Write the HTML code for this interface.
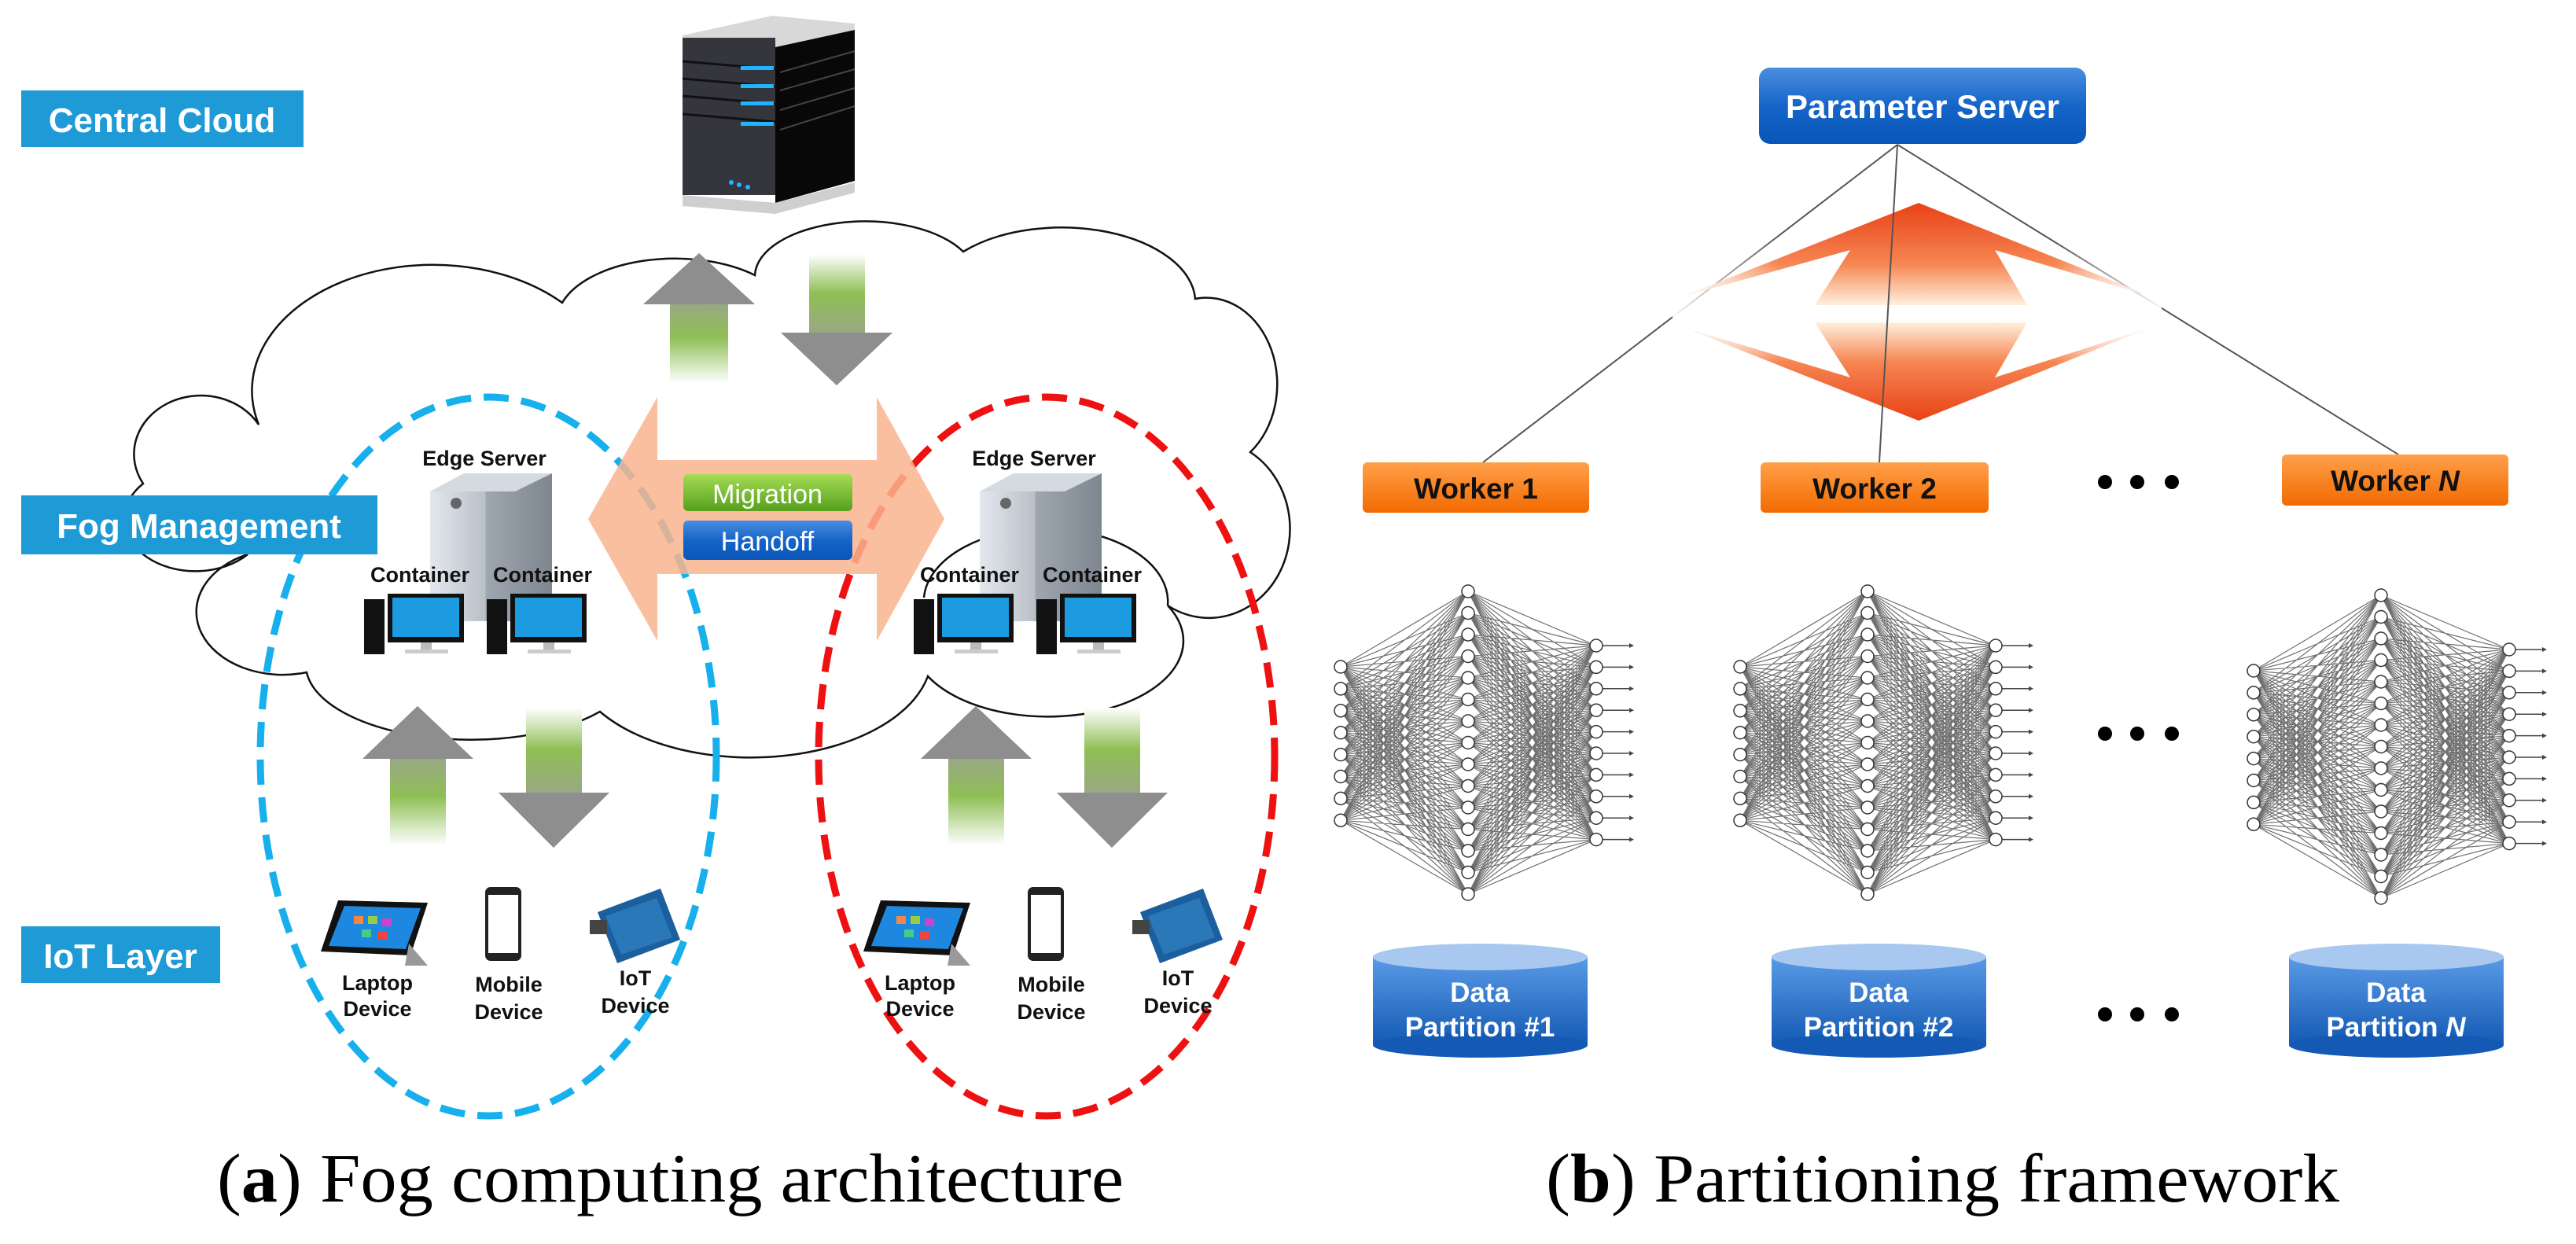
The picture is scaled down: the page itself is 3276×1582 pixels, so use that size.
<!DOCTYPE html>
<html><head><meta charset="utf-8"><style>
html,body{margin:0;padding:0;background:#fff}
svg{display:block}
.lbl{font-family:"Liberation Sans",sans-serif;font-weight:bold;fill:#fff}
.blk{font-family:"Liberation Sans",sans-serif;font-weight:bold;fill:#111}
.cap{font-family:"Liberation Serif",serif;fill:#000}
</style></head><body>
<svg id="s" width="3276" height="1582" viewBox="0 0 3276 1582" xmlns="http://www.w3.org/2000/svg">
<defs>
<linearGradient id="upg" x1="0" y1="0" x2="0" y2="1"><stop offset="0" stop-color="#8c8c8c"/><stop offset="0.35" stop-color="#9aa58a"/><stop offset="0.65" stop-color="#8fbf55"/><stop offset="1" stop-color="#ffffff"/></linearGradient>
<linearGradient id="dng" x1="0" y1="0" x2="0" y2="1"><stop offset="0" stop-color="#ffffff"/><stop offset="0.3" stop-color="#8fbf55"/><stop offset="0.65" stop-color="#9aa58a"/><stop offset="1" stop-color="#8c8c8c"/></linearGradient>
<linearGradient id="edge" x1="0" y1="0" x2="1" y2="0"><stop offset="0" stop-color="#e4e8ee"/><stop offset="0.45" stop-color="#b9c0c8"/><stop offset="0.46" stop-color="#9ea6b0"/><stop offset="1" stop-color="#7e8690"/></linearGradient>
<linearGradient id="bluebox" x1="0" y1="0" x2="0" y2="1"><stop offset="0" stop-color="#4a8ee0"/><stop offset="0.5" stop-color="#1565c8"/><stop offset="1" stop-color="#0a55b8"/></linearGradient>
<linearGradient id="grn" x1="0" y1="0" x2="0" y2="1"><stop offset="0" stop-color="#a6dc55"/><stop offset="1" stop-color="#55a01c"/></linearGradient>
<linearGradient id="org" x1="0" y1="0" x2="0" y2="1"><stop offset="0" stop-color="#ffa04a"/><stop offset="1" stop-color="#f26a00"/></linearGradient>
<linearGradient id="cyl" x1="0" y1="0" x2="0" y2="1"><stop offset="0" stop-color="#5a9ae6"/><stop offset="1" stop-color="#145ab4"/></linearGradient>
<linearGradient id="dup" x1="0" y1="0" x2="0" y2="1"><stop offset="0" stop-color="#e8380a"/><stop offset="0.6" stop-color="#f6804a"/><stop offset="1" stop-color="#fff0dc"/></linearGradient>
<linearGradient id="ddn" x1="0" y1="1" x2="0" y2="0"><stop offset="0" stop-color="#e8380a"/><stop offset="0.6" stop-color="#f6804a"/><stop offset="1" stop-color="#fff0dc"/></linearGradient>
<linearGradient id="fadeh" x1="0" y1="0" x2="1" y2="0"><stop offset="0" stop-color="#fff" stop-opacity="1"/><stop offset="0.22" stop-color="#fff" stop-opacity="0"/><stop offset="0.78" stop-color="#fff" stop-opacity="0"/><stop offset="1" stop-color="#fff" stop-opacity="1"/></linearGradient>
</defs>

<path d="M182,615 A80,70 0 0 1 329,540 A230,160 0 0 1 715,385 A150,80 0 0 1 960,350 A140,70 0 0 1 1225,320 A170,95 0 0 1 1520,380 A90,110 0 0 1 1590,575 A100,110 0 0 1 1485,770 A170,95 0 0 1 1180,860 A230,130 0 0 1 763,905 A210,95 0 0 1 390,855 A110,80 0 0 1 315,705 A75,55 0 0 1 182,615 Z" fill="#fff" stroke="#111" stroke-width="2.5"/>
<path d="M1175,760 A150,90 0 0 1 1485,770" fill="none" stroke="#111" stroke-width="2.5"/>

<ellipse cx="621" cy="962" rx="290" ry="457" fill="none" stroke="#17b0ec" stroke-width="9" stroke-dasharray="32 16"/>
<ellipse cx="1331" cy="962" rx="290" ry="457" fill="none" stroke="#ee1111" stroke-width="9" stroke-dasharray="32 16"/>

<polygon points="748,660 836,505 836,585 1115,585 1115,505 1201,660 1115,815 1115,730 836,730 836,815" fill="#f9b48e" opacity="0.85"/>

<rect x="869" y="603" width="215" height="47" rx="6" fill="url(#grn)"/>
<text x="976" y="640" text-anchor="middle" class="lbl" style="font-weight:normal;font-size:34px">Migration</text>
<rect x="869" y="662" width="215" height="50" rx="6" fill="url(#bluebox)"/>
<text x="976" y="700" text-anchor="middle" class="lbl" style="font-weight:normal;font-size:34px">Handoff</text>

<rect x="27" y="115" width="359" height="72" fill="#1e9ad6"/>
<text x="206" y="168" text-anchor="middle" class="lbl" style="font-size:44px">Central Cloud</text>
<rect x="27" y="630" width="453" height="75" fill="#1e9ad6"/>
<text x="253" y="684" text-anchor="middle" class="lbl" style="font-size:44px">Fog Management</text>
<rect x="27" y="1178" width="253" height="72" fill="#1e9ad6"/>
<text x="153" y="1231" text-anchor="middle" class="lbl" style="font-size:44px">IoT Layer</text>

<g>
<polygon points="868,45 982,20 1087,30 1087,45 985,62 868,50" fill="#d8d8d8"/>
<rect x="868" y="48" width="118" height="200" fill="#35353d"/>
<polygon points="986,60 1087,38 1087,230 986,258" fill="#080808"/>
<g stroke="#111" stroke-width="3"><line x1="868" y1="78" x2="986" y2="88"/><line x1="868" y1="100" x2="986" y2="110"/><line x1="868" y1="122" x2="986" y2="132"/><line x1="868" y1="145" x2="986" y2="155"/></g>
<g stroke="#444" stroke-width="2"><line x1="992" y1="92" x2="1087" y2="65"/><line x1="992" y1="115" x2="1087" y2="88"/><line x1="992" y1="140" x2="1087" y2="112"/><line x1="992" y1="165" x2="1087" y2="135"/></g>
<g fill="#22b4ff"><rect x="942" y="84" width="42" height="5"/><rect x="942" y="107" width="42" height="5"/><rect x="942" y="129" width="42" height="5"/><rect x="942" y="155" width="42" height="5"/></g>
<g fill="#22b4ff"><circle cx="930" cy="232" r="3"/><circle cx="940" cy="235" r="3"/><circle cx="951" cy="238" r="3"/></g>
<polygon points="868,248 986,258 1087,232 1087,245 986,272 868,262" fill="#cfcfcf"/>
</g>

<polygon points="889,322 960,387 926,387 926,487 852,487 852,387 818,387" fill="url(#upg)"/>
<polygon points="889,322 960,387 818,387" fill="#8e8e8e"/>
<polygon points="1029,323 1100,323 1100,423 1135,423 1064,490 993,423 1029,423" fill="url(#dng)"/>
<polygon points="993,423 1135,423 1064,490" fill="#8e8e8e"/>

<g id="la">
<polygon points="531,898 602,965 567,965 567,1075 496,1075 496,965 461,965" fill="url(#upg)"/>
<polygon points="531,898 602,965 461,965" fill="#8e8e8e"/>
<polygon points="669,900 740,900 740,1008 775,1008 704,1078 634,1008 669,1008" fill="url(#dng)"/>
<polygon points="634,1008 775,1008 704,1078" fill="#8e8e8e"/>
</g>
<use href="#la" transform="translate(710,0)"/>

<g id="es">
<text x="616" y="592" text-anchor="middle" class="blk" style="font-size:27px">Edge Server</text>
<polygon points="547,625 590,602 702,602 702,770 655,790 547,790" fill="url(#edge)"/>
<polygon points="547,625 590,602 702,602 655,625" fill="#d5dae0"/>
<circle cx="580" cy="640" r="7" fill="#666"/>
<text x="534" y="740" text-anchor="middle" class="blk" style="font-size:27px">Container</text>
<text x="690" y="740" text-anchor="middle" class="blk" style="font-size:27px">Container</text>
<g id="pc">
<rect x="463" y="762" width="26" height="70" fill="#111"/>
<rect x="493" y="755" width="97" height="62" fill="#111"/>
<rect x="499" y="760" width="85" height="50" fill="#1c9be0"/>
<rect x="535" y="817" width="14" height="10" fill="#bbb"/>
<rect x="515" y="826" width="55" height="5" fill="#ccc"/>
</g>
<use href="#pc" transform="translate(156,0)"/>
</g>
<use href="#es" transform="translate(699,0)"/>

<g id="dev">
<polygon points="430,1145 544,1148 522,1215 408,1210" fill="#111"/>
<polygon points="438,1152 535,1155 516,1207 418,1203" fill="#1e88e0"/>
<rect x="450" y="1165" width="12" height="10" fill="#e84"/><rect x="468" y="1165" width="12" height="10" fill="#9c4"/><rect x="486" y="1168" width="12" height="10" fill="#c4c"/><rect x="460" y="1182" width="12" height="10" fill="#4c8"/><rect x="480" y="1184" width="12" height="10" fill="#e44"/>
<polygon points="520,1200 544,1228 515,1228" fill="#999"/>
<rect x="617" y="1128" width="46" height="94" rx="7" fill="#222"/>
<rect x="621" y="1138" width="38" height="74" fill="#fff"/>
<polygon points="760,1160 840,1130 865,1195 785,1225" fill="#1b5f9e"/>
<polygon points="770,1165 835,1142 855,1192 790,1214" fill="#2a78b8"/>
<rect x="750" y="1170" width="22" height="18" fill="#444"/>
<text x="480" y="1259" text-anchor="middle" class="blk" style="font-size:27px">Laptop</text>
<text x="480" y="1292" text-anchor="middle" class="blk" style="font-size:27px">Device</text>
<text x="647" y="1261" text-anchor="middle" class="blk" style="font-size:27px">Mobile</text>
<text x="647" y="1296" text-anchor="middle" class="blk" style="font-size:27px">Device</text>
<text x="808" y="1253" text-anchor="middle" class="blk" style="font-size:27px">IoT</text>
<text x="808" y="1288" text-anchor="middle" class="blk" style="font-size:27px">Device</text>
</g>
<use href="#dev" transform="translate(690,0)"/>

<text x="276" y="1528" class="cap" style="font-size:88px" textLength="1153" lengthAdjust="spacingAndGlyphs">(<tspan font-weight="bold">a</tspan>) Fog computing architecture</text>

<g stroke="#555" stroke-width="2">
<line x1="2413" y1="184" x2="1886" y2="588"/>
<line x1="2413" y1="184" x2="3050" y2="578"/>
</g>
<g opacity="0.95">
<polygon points="2440,258 2739,378 2537,318 2578,388 2308,388 2353,318 2137,378" fill="url(#dup)"/>
<polygon points="2440,535 2739,415 2537,480 2578,410 2308,410 2353,480 2137,415" fill="url(#ddn)"/>
<rect x="2127" y="250" width="622" height="290" fill="url(#fadeh)"/>
</g>
<line x1="2413" y1="184" x2="2390" y2="588" stroke="#555" stroke-width="2"/>

<rect x="2237" y="86" width="416" height="97" rx="14" fill="url(#bluebox)"/>
<text x="2445" y="150" text-anchor="middle" class="lbl" style="font-size:42px">Parameter Server</text>

<rect x="1733" y="588" width="288" height="64" rx="6" fill="url(#org)"/>
<text x="1877" y="634" text-anchor="middle" class="blk" style="font-size:37px">Worker 1</text>
<rect x="2239" y="588" width="290" height="64" rx="6" fill="url(#org)"/>
<text x="2384" y="634" text-anchor="middle" class="blk" style="font-size:37px">Worker 2</text>
<rect x="2902" y="578" width="288" height="65" rx="6" fill="url(#org)"/>
<text x="3046" y="624" text-anchor="middle" class="blk" style="font-size:37px">Worker <tspan font-style="italic">N</tspan></text>

<g fill="#000">
<circle cx="2677" cy="613" r="9"/><circle cx="2718" cy="613" r="9"/><circle cx="2762" cy="613" r="9"/>
<circle cx="2677" cy="933" r="9"/><circle cx="2718" cy="933" r="9"/><circle cx="2762" cy="933" r="9"/>
<circle cx="2677" cy="1290" r="9"/><circle cx="2718" cy="1290" r="9"/><circle cx="2762" cy="1290" r="9"/>
</g>

<g id="nets"></g>

<g id="cy">
<rect x="1746" y="1217" width="273" height="112" fill="url(#cyl)"/>
<ellipse cx="1882.5" cy="1329" rx="136.5" ry="16" fill="#145ab4"/>
<ellipse cx="1882.5" cy="1217" rx="136.5" ry="17" fill="#a8c8f0"/>
</g>
<text x="1882" y="1274" text-anchor="middle" class="lbl" style="font-size:35px">Data</text>
<text x="1882" y="1318" text-anchor="middle" class="lbl" style="font-size:35px">Partition #1</text>
<use href="#cy" transform="translate(507,0)"/>
<text x="2389" y="1274" text-anchor="middle" class="lbl" style="font-size:35px">Data</text>
<text x="2389" y="1318" text-anchor="middle" class="lbl" style="font-size:35px">Partition #2</text>
<use href="#cy" transform="translate(1165,0)"/>
<text x="3047" y="1274" text-anchor="middle" class="lbl" style="font-size:35px">Data</text>
<text x="3047" y="1318" text-anchor="middle" class="lbl" style="font-size:35px">Partition <tspan font-style="italic">N</tspan></text>

<text x="1966" y="1528" class="cap" style="font-size:88px" textLength="1009" lengthAdjust="spacingAndGlyphs">(<tspan font-weight="bold">b</tspan>) Partitioning framework</text>
</svg>
<script>
(function(){
var ns="http://www.w3.org/2000/svg",g=document.getElementById("nets");
function el(n,a){var e=document.createElementNS(ns,n);for(var k in a)e.setAttribute(k,a[k]);g.appendChild(e);return e;}
function net(xi,xh,xo,dy){
 var I=[],H=[],O=[],i,j;
 for(i=0;i<8;i++)I.push(848+dy+i*27.9);
 for(i=0;i<15;i++)H.push(752+dy+i*27.5);
 for(i=0;i<10;i++)O.push(821+dy+i*27.4);
 var d="";
 for(i=0;i<8;i++)for(j=0;j<15;j++)d+="M"+xi+","+I[i]+"L"+xh+","+H[j];
 for(i=0;i<15;i++)for(j=0;j<10;j++)d+="M"+xh+","+H[i]+"L"+xo+","+O[j];
 el("path",{d:d,stroke:"#111","stroke-width":"1.2","stroke-opacity":"0.6",fill:"none"});
 var a="";
 for(i=0;i<10;i++)a+="M"+xo+","+O[i]+"L"+(xo+45)+","+O[i];
 el("path",{d:a,stroke:"#444","stroke-width":"1.5",fill:"none"});
 for(i=0;i<10;i++)el("polygon",{points:(xo+48)+","+O[i]+" "+(xo+42)+","+(O[i]-3)+" "+(xo+42)+","+(O[i]+3),fill:"#444"});
 I.forEach(function(y){el("circle",{cx:xi,cy:y,r:8,fill:"#fff",stroke:"#333","stroke-width":"1.5"});});
 H.forEach(function(y){el("circle",{cx:xh,cy:y,r:8,fill:"#fff",stroke:"#333","stroke-width":"1.5"});});
 O.forEach(function(y){el("circle",{cx:xo,cy:y,r:8,fill:"#fff",stroke:"#333","stroke-width":"1.5"});});
}
net(1705,1867,2030,0);
net(2213,2375,2538,0);
net(2866,3028,3191,5);
})();
</script>
</body></html>
